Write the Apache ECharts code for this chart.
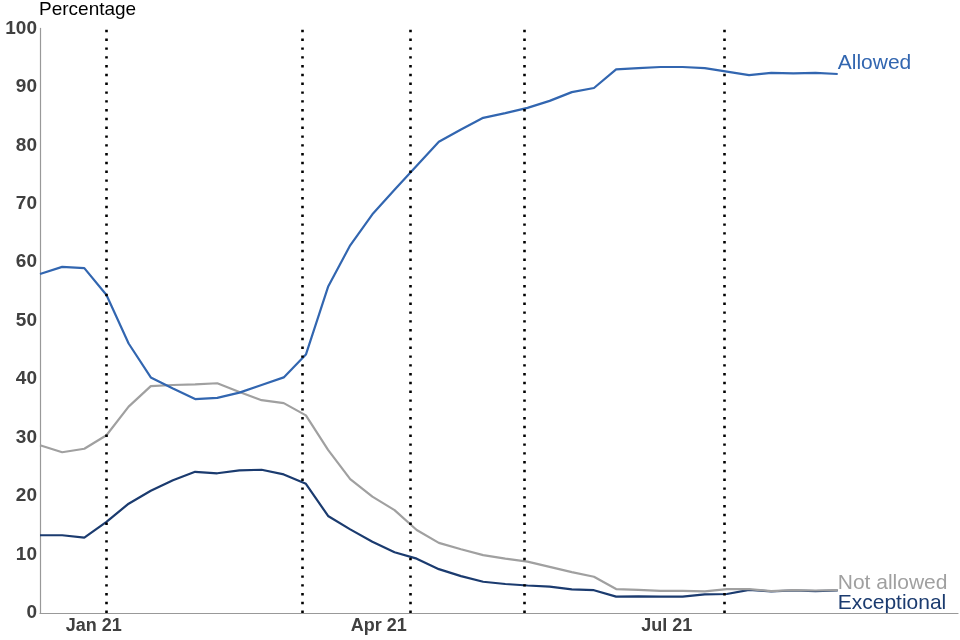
<!DOCTYPE html>
<html>
<head>
<meta charset="utf-8">
<script src="https://cdn.jsdelivr.net/npm/echarts@6/dist/echarts.min.js"></script>
<style>html,body{margin:0;padding:0;background:#fff}#c{width:960px;height:640px}</style>
</head>
<body>
<div id="c"></div>
<script>
var weeks = ['2020-12-15','2020-12-22','2020-12-29',
  '2021-01-05','2021-01-12','2021-01-19','2021-01-26',
  '2021-02-02','2021-02-09','2021-02-16','2021-02-23',
  '2021-03-02','2021-03-09','2021-03-16','2021-03-23','2021-03-30',
  '2021-04-06','2021-04-13','2021-04-20','2021-04-27',
  '2021-05-04','2021-05-11','2021-05-18','2021-05-25',
  '2021-06-01','2021-06-08','2021-06-15','2021-06-22','2021-06-29',
  '2021-07-06','2021-07-13','2021-07-20','2021-07-27',
  '2021-08-03','2021-08-10','2021-08-17','2021-08-24'];
var allowed = [58.0,59.2,59.0,54.4,46.1,40.3,38.4,36.6,36.8,37.7,39.0,40.3,44.2,
  55.8,62.9,68.2,72.4,76.5,80.6,82.7,84.7,85.5,86.4,87.6,89.1,89.8,93.0,93.2,93.4,93.4,93.2,92.6,92.0,92.4,92.3,92.4,92.2];
var notAllowed = [28.7,27.5,28.1,30.4,35.3,38.8,39.0,39.1,39.3,37.8,36.4,35.9,33.8,
  27.9,22.9,19.9,17.6,14.2,12.0,10.9,9.9,9.3,8.8,7.9,7.0,6.2,4.1,3.95,3.8,3.8,3.7,4.1,4.1,3.75,3.9,3.85,3.9];
var exceptional = [13.3,13.3,12.9,15.6,18.7,20.9,22.7,24.15,23.9,24.4,24.5,23.7,22.1,
  16.6,14.3,12.2,10.4,9.3,7.5,6.3,5.35,4.96,4.7,4.5,4.05,3.9,2.8,2.85,2.8,2.8,3.2,3.25,3.95,3.7,3.85,3.75,3.85];
var xTickDates = ['2021-01-01','2021-04-01','2021-07-01'];
var xTickLabels = ['Jan 21','Apr 21','Jul 21'];
var eventDates = ['2021-01-05','2021-03-08','2021-04-11','2021-05-17','2021-07-19'];
var xMin = '2020-12-15', xMax = '2021-10-01';

function t(s){ return new Date(s + 'T00:00:00Z').getTime(); }
function pairs(vals){ return weeks.map(function(d,i){ return [t(d), vals[i]]; }); }
var tickVals = xTickDates.map(t);

var FONT = '"Liberation Sans", Arial, sans-serif';
var chart = echarts.init(document.getElementById('c'));
function mkSeries(name, vals, color, off){
  return {
    name: name, type: 'line', data: pairs(vals), symbol: 'none',
    lineStyle: {color: color, width: 2.2}, itemStyle: {color: color},
    animation: false, silent: true,
    endLabel: {show: true, formatter: name, color: color, fontFamily: FONT, fontSize: 21,
      distance: 0, offset: off}
  };
}
var sExc = mkSeries('Exceptional', exceptional, '#1b3b6f', [0, 13]);
var sNot = mkSeries('Not allowed', notAllowed, '#a0a0a0', [0, -7]);
var sAll = mkSeries('Allowed', allowed, '#3266b0', [0, -11]);
sExc.markLine = {
  silent: true, symbol: 'none', label: {show: false}, animation: false,
  lineStyle: {color: '#000', width: 2.6, type: [2.4, 6.4]},
  data: eventDates.map(function(d){ return {xAxis: t(d)}; })
};
chart.setOption({
  animation: false,
  grid: {left: 40, right: 2, top: 28, bottom: 27, containLabel: false},
  xAxis: {
    type: 'value', min: t(xMin), max: t(xMax),
    axisLine: {show: true, lineStyle: {color: '#999', width: 1.2}},
    axisTick: {show: false},
    splitLine: {show: false},
    axisLabel: {
      customValues: tickVals, margin: 4,
      color: '#404040', fontWeight: 'bold', fontFamily: FONT, fontSize: 18,
      formatter: function(v){ var i = tickVals.indexOf(v); return i >= 0 ? xTickLabels[i] : ''; }
    }
  },
  yAxis: {
    type: 'value', min: 0, max: 100, interval: 10,
    name: 'Percentage', nameLocation: 'end', nameGap: 8,
    nameTextStyle: {color: '#000', fontFamily: FONT, fontSize: 19, align: 'left', verticalAlign: 'bottom', padding: [0,0,0,-1]},
    axisLine: {show: true, lineStyle: {color: '#999', width: 1.2}},
    axisTick: {show: false},
    splitLine: {show: false},
    axisLabel: {color: '#404040', fontWeight: 'bold', fontFamily: FONT, fontSize: 19, margin: 3}
  },
  series: [sExc, sNot, sAll]
});
</script>
</body>
</html>
